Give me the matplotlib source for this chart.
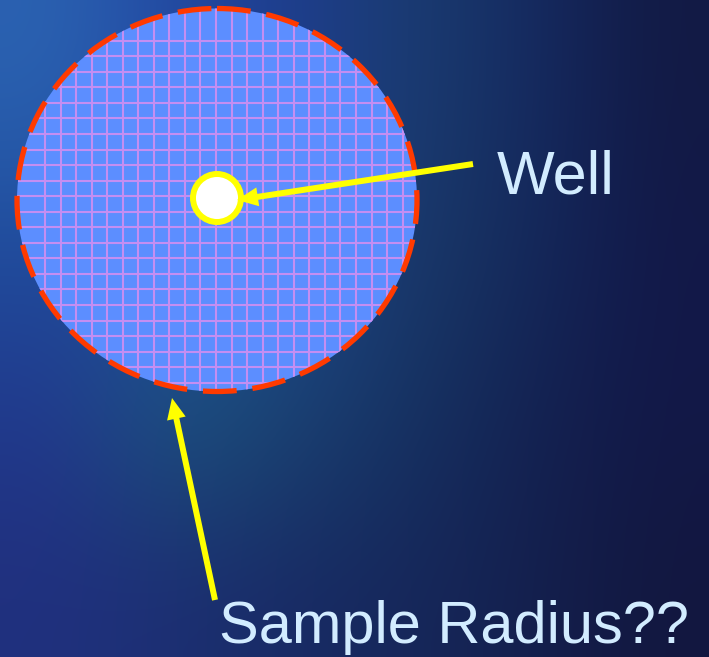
import numpy as np
import matplotlib
matplotlib.use("Agg")
import matplotlib.pyplot as plt
from matplotlib.patches import Ellipse, Circle
from matplotlib.colors import to_rgb

# diagram values (pixel coordinates of the slide)
sample_center = (217, 200)
sample_size = (400, 383)          # width, height of the sample area
grid_start = (45.0, 40.7)
grid_step = 15.55
well_center = (217, 198)
well_radius = 24
labels = ["Well", "Sample Radius??"]
label_pos = [(497, 194), (219, 643)]
label_size = [44, 42.8]
arrow_tails = [(473, 164), (215, 600)]
arrow_tips = [(237, 200), (172, 398)]

# background colour field (coarse, smoothed)
bg_rows = [
    ["#2b63b2", "#2248a2", "#1e3c8c", "#1a3d70", "#152a62", "#121a44"],
    ["#1f4c9c", "#2048a0", "#1e4290", "#1a3a68", "#14295c", "#121848"],
    ["#22398e", "#1b5a7c", "#1a4472", "#153262", "#142252", "#121848"],
    ["#20307e", "#1c2e72", "#182a64", "#16275a", "#14204e", "#12173f"],
]
bg = np.array([[to_rgb(c) for c in row] for row in bg_rows])

W, H = 709, 657
fig = plt.figure(figsize=(W / 100, H / 100), dpi=100)
ax = fig.add_axes([0, 0, 1, 1])
ax.set_xlim(0, W)
ax.set_ylim(H, 0)
ax.axis("off")

ax.imshow(bg, extent=(0, W, H, 0), interpolation="bicubic", aspect="auto", zorder=0)

# sample area with grid
area = Ellipse(sample_center, *sample_size, facecolor="#5c8eff", edgecolor="none", zorder=1)
ax.add_patch(area)
for x in np.arange(grid_start[0], W, grid_step):
    ln, = ax.plot([x, x], [0, H], color="#c48ef2", lw=1.5, zorder=2)
    ln.set_clip_path(area)
for y in np.arange(grid_start[1], H, grid_step):
    ln, = ax.plot([0, W], [y, y], color="#c48ef2", lw=1.5, zorder=2)
    ln.set_clip_path(area)

ax.add_patch(Ellipse(sample_center, *sample_size, facecolor="none", edgecolor="#ff3a00",
                     lw=3.8, linestyle=(0, (6.4, 3.0)), zorder=3))

# well
ax.add_patch(Circle(well_center, well_radius, facecolor="white", edgecolor="#ffff00",
                    lw=4.3, zorder=4))

# arrows
for (tx, ty), (hx, hy) in zip(arrow_tails, arrow_tips):
    ax.arrow(tx, ty, hx - tx, hy - ty, width=6, head_width=19, head_length=21,
             length_includes_head=True, color="#ffff00", lw=0, zorder=5)

for txt, (x, y), fs in zip(labels, label_pos, label_size):
    ax.text(x, y, txt, fontsize=fs, color="#d2ecff", ha="left", va="baseline",
            family="Liberation Sans", zorder=6)

fig.savefig("out.png", dpi=100)
